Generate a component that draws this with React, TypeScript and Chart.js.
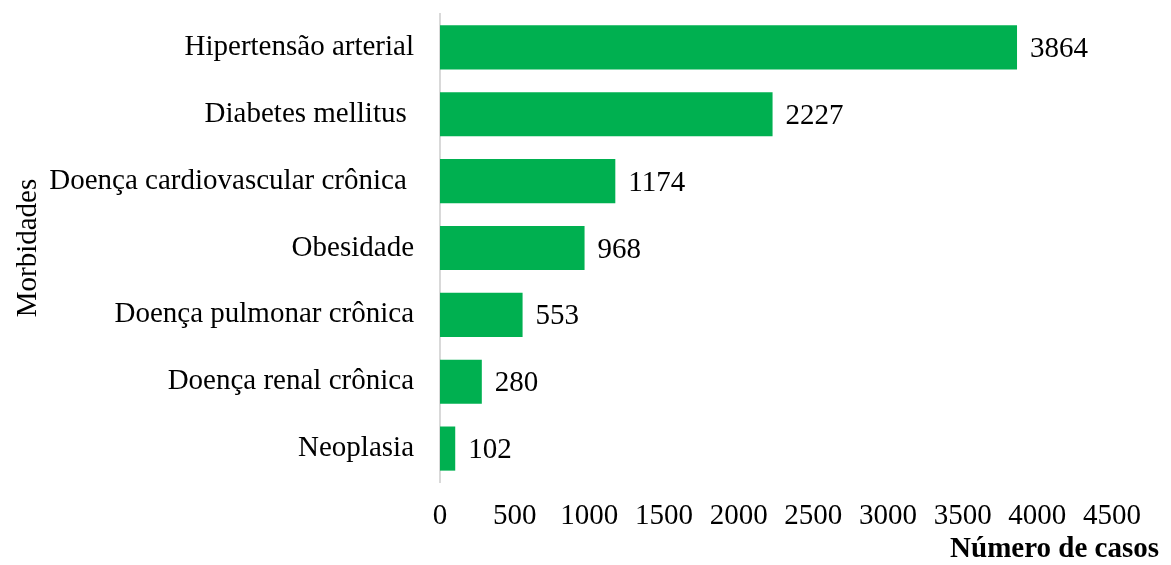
import React, { useEffect, useRef } from "react";
import { Chart, registerables } from "chart.js";

Chart.register(...registerables);

const categories = [
  "Hipertensão arterial",
  "Diabetes mellitus ",
  "Doença cardiovascular crônica ",
  "Obesidade",
  "Doença pulmonar crônica",
  "Doença renal crônica",
  "Neoplasia",
];
const values = [3864, 2227, 1174, 968, 553, 280, 102];
const xTitle = "Número de casos";
const yTitle = "Morbidades";

const FONT = "'Liberation Serif', 'Times New Roman', serif";
const FS = 29;

export default function App() {
  const ref = useRef<HTMLCanvasElement>(null);
  useEffect(() => {
    if (!ref.current) return;
    const labelsPlugin = {
      id: "customText",
      afterDatasetsDraw(chart: any) {
        const ctx = chart.ctx;
        ctx.save();
        ctx.font = `${FS}px ${FONT}`;
        ctx.fillStyle = "#000";
        ctx.textAlign = "left";
        ctx.textBaseline = "middle";
        const meta = chart.getDatasetMeta(0);
        meta.data.forEach((bar: any, i: number) => {
          ctx.fillText(String(values[i]), bar.x + 13, bar.y + 2);
        });
        // x title
        ctx.font = `bold ${FS}px ${FONT}`;
        ctx.textAlign = "right";
        ctx.textBaseline = "alphabetic";
        ctx.fillText(xTitle, chart.width - 4, 549);
        // y title
        ctx.font = `${FS}px ${FONT}`;
        ctx.textBaseline = "middle";
        ctx.translate(20, (chart.chartArea.top + chart.chartArea.bottom) / 2);
        ctx.rotate(-Math.PI / 2);
        ctx.textAlign = "center";
        ctx.fillText(yTitle, 0, 0);
        ctx.restore();
      },
    };
    const chart = new Chart(ref.current, {
      type: "bar",
      data: {
        labels: categories,
        datasets: [
          {
            data: values,
            backgroundColor: "#00B050",
            borderWidth: 0,
            categoryPercentage: 1,
            barPercentage: 0.66,
          },
        ],
      },
      options: {
        indexAxis: "y",
        animation: false,
        responsive: false,
        layout: { padding: { top: 6, right: 51, left: 0, bottom: 0 } },
        plugins: { legend: { display: false }, tooltip: { enabled: false } },
        scales: {
          x: {
            min: 0,
            max: 4500,
            ticks: {
              stepSize: 500,
              color: "#000",
              font: { family: FONT, size: FS },
              padding: 17,
              maxRotation: 0,
              autoSkip: false,
              callback: (v: any) => String(v),
            },
            grid: { display: false, drawTicks: false },
            border: { display: false },
            afterFit: (s: any) => {
              s.height = 83;
              s.paddingLeft = 0;
              s.paddingRight = 0;
            },
          },
          y: {
            ticks: {
              color: "#000",
              font: { family: FONT, size: FS },
              padding: 26,
              autoSkip: false,
            },
            grid: { display: false, drawTicks: false },
            border: { display: true, color: "#D9D9D9", width: 2 },
            afterFit: (s: any) => {
              s.width = 432;
              s.paddingTop = 0;
              s.paddingBottom = 0;
            },
          },
        },
      },
      plugins: [labelsPlugin],
    });
    return () => chart.destroy();
  }, []);
  return (
    <div style={{ width: 1155, height: 557 }}>
      <canvas ref={ref} width={1155} height={557} style={{ display: "block" }} />
    </div>
  );
}
